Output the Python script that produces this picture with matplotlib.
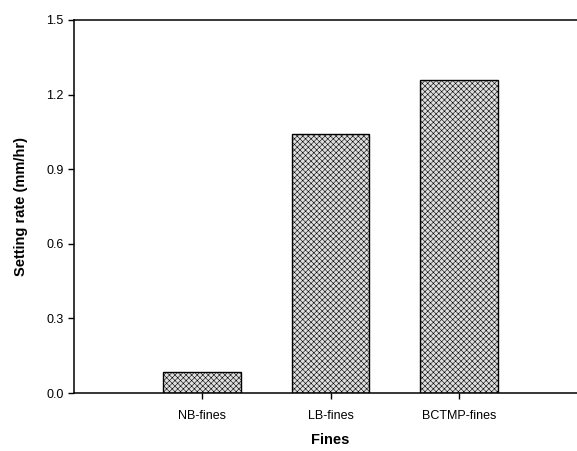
import matplotlib
matplotlib.use("Agg")
import matplotlib.pyplot as plt

categories = ["NB-fines", "LB-fines", "BCTMP-fines"]
settling_rate = [0.085, 1.04, 1.26]
y_ticks = [0.0, 0.3, 0.6, 0.9, 1.2, 1.5]

plt.rcParams['font.family'] = ['Liberation Sans', 'DejaVu Sans']
plt.rcParams['hatch.color'] = '#a8a8a8'
plt.rcParams['hatch.linewidth'] = 0.4

W, H = 577, 451
fig = plt.figure(figsize=(W / 100, H / 100), dpi=100)
left, right, top, bottom = 73.5, 587.5, 20, 393
ax = fig.add_axes([left / W, 1 - bottom / H, (right - left) / W, (bottom - top) / H])

x = list(range(1, len(categories) + 1))
ax.bar(x, settling_rate, width=0.6, facecolor='#dedede', edgecolor='black',
       linewidth=1.0, hatch='xxxxxx')

ax.set_xlim(0, 4)
ax.set_ylim(0, 1.5)
ax.set_xticks(x)
ax.set_xticklabels(categories, fontsize=9)
ax.set_yticks(y_ticks)
ax.set_yticklabels([f"{v:.1f}" for v in y_ticks], fontsize=9)
ax.tick_params(axis='y', direction='out', length=4, width=1, pad=3)
ax.tick_params(axis='x', direction='out', length=4, width=1, pad=8)

for side in ['left', 'top', 'bottom']:
    ax.spines[side].set_linewidth(1.1)
ax.spines['right'].set_visible(False)

ax.set_ylabel("Setting rate (mm/hr)", fontsize=10.5, fontweight='bold', labelpad=13)
ax.set_xlabel("Fines", fontsize=10.5, fontweight='bold', labelpad=8)

fig.savefig("out.png", dpi=100)
